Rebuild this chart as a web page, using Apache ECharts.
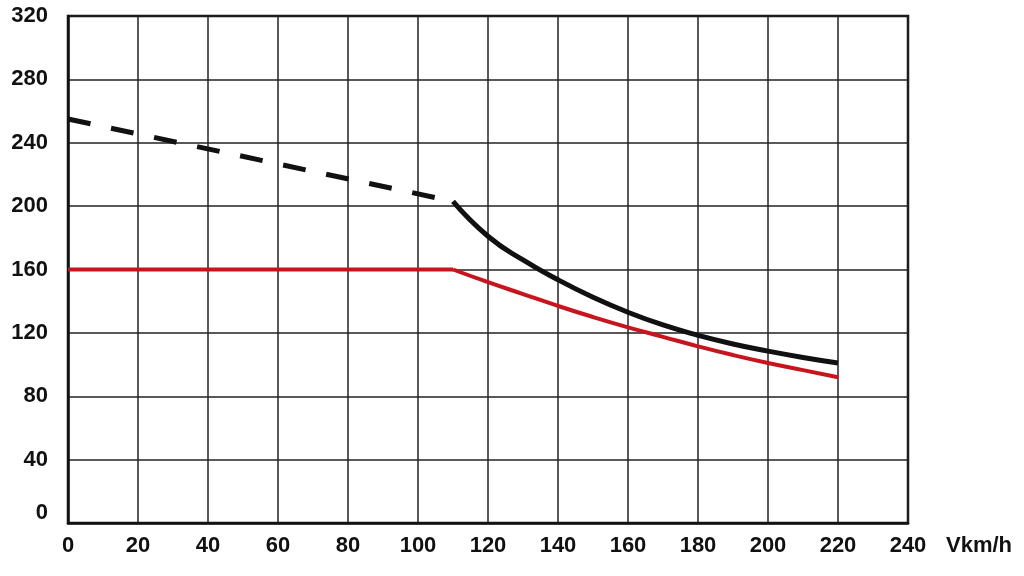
<!DOCTYPE html>
<html>
<head>
<meta charset="utf-8">
<script src="https://cdn.jsdelivr.net/npm/echarts@6/dist/echarts.min.js"></script>
<style>html,body{margin:0;padding:0;background:#fff;}#c{width:1024px;height:576px;}</style>
</head>
<body>
<div id="c"></div>
<script>
// x ticks (km/h) and y ticks
var xTicks = [0, 20, 40, 60, 80, 100, 120, 140, 160, 180, 200, 220, 240];
var yTicks = [0, 40, 80, 120, 160, 200, 240, 280, 320];
var xAxisName = 'Vkm/h';

// black curve: dashed part (low speed) and solid part
var blackDashedX = [0, 110];
var blackDashedY = [255, 203];
var blackSolidX = [110, 120, 130, 140, 150, 160, 170, 180, 190, 200, 210, 220];
var blackSolidY = [203, 181, 166, 153.5, 142.5, 133, 125, 118.5, 113, 108.5, 104.5, 101];

// red curve: flat part and falling part
var redFlatX = [0, 110];
var redFlatY = [160, 160];
var redX = [110, 120, 130, 140, 150, 160, 170, 180, 190, 200, 210, 220];
var redY = [160, 152, 144.5, 137, 130, 123.5, 117.5, 111.5, 106, 101, 96.5, 92];

function pairs(xs, ys) { return xs.map(function (x, i) { return [x, ys[i]]; }); }

var chart = echarts.init(document.getElementById('c'), null, {renderer: 'canvas'});
var font = 'Liberation Sans, Arial, sans-serif';
var labelStyle = {fontFamily: font, fontSize: 22, fontWeight: 'bold', color: '#111'};
chart.setOption({
  animation: false,
  backgroundColor: '#ffffff',
  grid: {left: 68, right: 116, top: 16, bottom: 53, show: true, borderColor: '#111', borderWidth: 2.5, backgroundColor: 'transparent'},
  xAxis: {
    type: 'value', min: xTicks[0], max: xTicks[xTicks.length - 1], interval: 20,
    name: xAxisName, nameLocation: 'end', nameGap: 38,
    nameTextStyle: Object.assign({}, labelStyle, {verticalAlign: 'top', padding: [12, 0, 0, 0]}),
    axisLine: {show: true, lineStyle: {color: '#111', width: 2.5}},
    axisTick: {show: false},
    axisLabel: Object.assign({}, labelStyle, {margin: 12}),
    splitLine: {show: true, lineStyle: {color: '#222', width: 1.5}}
  },
  yAxis: {
    type: 'value', min: yTicks[0], max: yTicks[yTicks.length - 1], interval: 40,
    axisLine: {show: true, lineStyle: {color: '#111', width: 2.5}},
    axisTick: {show: false},
    axisLabel: Object.assign({}, labelStyle, {
      margin: 20,
      formatter: function (v) { return v === 0 ? '{z|0}' : String(v); },
      rich: {z: Object.assign({}, labelStyle, {padding: [0, 0, 20, 0]})}
    }),
    splitLine: {show: true, lineStyle: {color: '#222', width: 1.5}}
  },
  series: [
    {type: 'line', data: pairs(blackDashedX, blackDashedY), showSymbol: false, symbol: 'none',
     lineStyle: {color: '#111', width: 5, type: [23, 21]}, z: 3},
    {type: 'line', data: pairs(blackSolidX, blackSolidY), showSymbol: false, symbol: 'none', smooth: 0.5,
     lineStyle: {color: '#111', width: 5}, z: 3},
    {type: 'line', data: pairs(redFlatX, redFlatY), showSymbol: false, symbol: 'none',
     lineStyle: {color: '#c8141c', width: 4}, z: 2},
    {type: 'line', data: pairs(redX, redY), showSymbol: false, symbol: 'none', smooth: 0.5,
     lineStyle: {color: '#c8141c', width: 4}, z: 2}
  ]
});
</script>
</body>
</html>
